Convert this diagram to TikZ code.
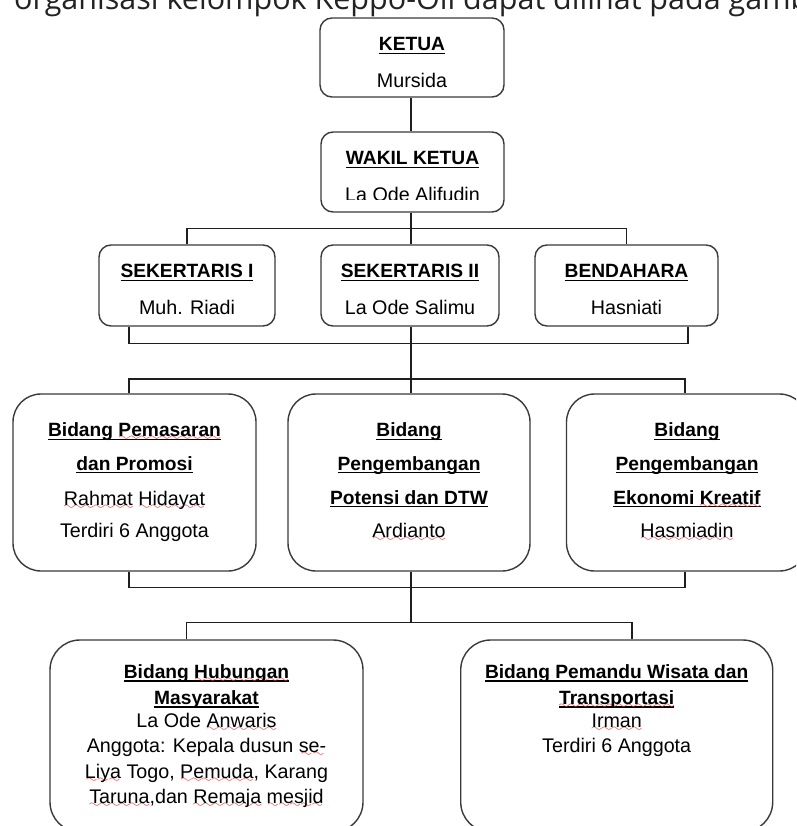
\documentclass[tikz,border=0pt]{standalone}
\usepackage{fontspec}
\setmainfont{Liberation Sans}
\newfontfamily\capfont{Open Sans}
\usetikzlibrary{calc}
\definecolor{boxc}{HTML}{3A3A3A}
\definecolor{linec}{HTML}{1E1E1E}
\definecolor{wavec}{HTML}{E23A3A}
\definecolor{capc}{HTML}{222222}
\newsavebox\hdbox
\newsavebox\sqbox
\font\wavefont=lasy6 at 11.5pt
\newcommand\hd[1]{\sbox\hdbox{#1}\rlap{\rule[-3.4pt]{\wd\hdbox}{1.3pt}}\usebox\hdbox}
\newcommand\sq[1]{\sbox\sqbox{#1}\rlap{\raisebox{-4.2pt}[0pt][0pt]{\color{wavec}\hbox to \wd\sqbox{\xleaders\hbox{\wavefont\char58}\hfil}}}\usebox\sqbox}
\begin{document}
\begin{tikzpicture}[x=1pt,y=-1pt,
  box/.style={draw=boxc, line width=1.4pt, rounded corners=#1, inner sep=0pt, fill=white},
  txt/.style={inner sep=0pt, anchor=base, font=\fontsize{19.7}{22}\selectfont},
  hdr/.style={inner sep=0pt, anchor=base, font=\fontsize{19.2}{22}\selectfont\bfseries},
  conn/.style={draw=linec, line width=1.3pt}]
\useasboundingbox (0,0) rectangle (796,826);
\clip (0,0) rectangle (796,826);
% clipped sentence at the top
\node[inner sep=0pt, anchor=base west, text=capc, font=\capfont\fontsize{30.5}{32}\selectfont] (cap) at (14,9.5) {\llap{Struktur }organisasi kelompok Keppo-Oli dapat dilihat pada gambar};
% boxes
\node[box=12pt, minimum width=184pt, minimum height=79pt] (ketua) at (412,57.5) {};
\node[box=12pt, minimum width=183pt, minimum height=80pt] (wakil) at (412.5,172) {};
\node[box=12pt, minimum width=176pt, minimum height=81pt] (sek1) at (187,285.5) {};
\node[box=12pt, minimum width=178pt, minimum height=81pt] (sek2) at (410,285.5) {};
\node[box=12pt, minimum width=183pt, minimum height=81pt] (bend) at (626.5,285.5) {};
\node[box=28pt, minimum width=243pt, minimum height=177pt] (b1) at (134.5,482.5) {};
\node[box=28pt, minimum width=242pt, minimum height=177pt] (b2) at (409,482.5) {};
\node[box=28pt, minimum width=241pt, minimum height=177pt] (b3) at (687,482.5) {};
\node[box=30pt, minimum width=313pt, minimum height=192pt] (c1) at (206.5,736) {};
\node[box=30pt, minimum width=312pt, minimum height=192pt] (c2) at (616.7,736) {};
% junction coordinates
\coordinate (j1) at (411,228.5);
\coordinate (j2l) at (129,343.5);
\coordinate (j2r) at (688,343.5);
\coordinate (j3) at (411,379);
\coordinate (j3l) at (129,379);
\coordinate (j3r) at (685,379);
\coordinate (j4l) at (129,587.5);
\coordinate (j4r) at (685,587.5);
\coordinate (j5) at (411,622.5);
\coordinate (j5l) at (186.5,622.5);
\coordinate (j5r) at (632,622.5);
% connectors
\draw[conn] (ketua.south -| j1) -- (wakil.north -| j1);
\draw[conn] (wakil.south -| j1) -- (sek2.north -| j1);
\draw[conn] (sek1.north) |- (j1) -| (bend.north);
\draw[conn] (sek1.south -| j2l) -- (j2l) -- (j2r) -- (bend.south -| j2r);
\draw[conn] (sek2.south -| j3) -- (b2.north -| j3);
\draw[conn] (b1.north -| j3l) -- (j3l) -- (j3r) -- (b3.north -| j3r);
\draw[conn] (b1.south -| j4l) -- (j4l) -- (j4r) -- (b3.south -| j4r);
\draw[conn] (b2.south -| j5) -- (j5);
\draw[conn] (c1.north -| j5l) -- (j5l) -- (j5r) -- (c2.north -| j5r);
% row 1
\node[hdr] (t1a) at (412,50.7) {\hd{KETUA}};
\node[txt] (t1b) at (412,87.3) {Mursida};
% row 2
\node[hdr] (t2a) at (412.5,164.7) {\hd{WAKIL KETUA}};
\begin{scope}
\clip (320,175) rectangle (505,199.8);
\node[txt] (t2b) at (412.5,201.5) {La Ode Alifudin};
\end{scope}
% row 3
\node[hdr] (t3a) at (187,277.7) {\hd{SEKERTARIS I}};
\node[txt] (t3b) at (187,314.3) {Muh. Riadi};
\node[hdr] (t3c) at (410,277.7) {\hd{SEKERTARIS II}};
\node[txt] (t3d) at (410,314.3) {La Ode Salimu};
\node[hdr] (t3e) at (626.5,277.7) {\hd{BENDAHARA}};
\node[txt] (t3f) at (626.5,314.3) {Hasniati};
% row 4
\node[hdr] (t4a) at (134.5,436.7) {\hd{Bidang \sq{Pemasaran}}};
\node[hdr] (t4b) at (134.5,470) {\hd{dan Promosi}};
\node[txt] (t4c) at (134.5,505) {\sq{Rahmat} \sq{Hidayat}};
\node[txt] (t4d) at (134.5,537) {Terdiri 6 Anggota};
\node[hdr] (t4e) at (409,436.7) {\hd{Bidang}};
\node[hdr] (t4f) at (409,470) {\hd{Pengembangan}};
\node[hdr] (t4g) at (409,504) {\hd{Potensi dan DTW}};
\node[txt] (t4h) at (409,537) {\sq{Ardianto}};
\node[hdr] (t4i) at (687,436.7) {\hd{Bidang}};
\node[hdr] (t4j) at (687,470) {\hd{Pengembangan}};
\node[hdr] (t4k) at (687,504) {\hd{Ekonomi \sq{Kreatif}}};
\node[txt] (t4l) at (687,537) {\sq{Hasmiadin}};
% row 5
\node[hdr] (t5a) at (206.5,678.3) {\hd{Bidang \sq{Hubungan}}};
\node[hdr] (t5b) at (206.5,704.3) {\hd{Masyarakat}};
\node[txt] (t5c) at (206.5,727.5) {La Ode \sq{Anwaris}};
\node[txt] (t5d) at (206.5,752.5) {Anggota: Kepala dusun \sq{se-}};
\node[txt] (t5e) at (206.5,778) {\sq{Liya} Togo, \sq{Pemuda}, Karang};
\node[txt] (t5f) at (206.5,803.5) {\sq{Taruna},dan \sq{Remaja} \sq{mesjid}};
\node[hdr] (t5g) at (616.7,678.3) {\hd{Bidang Pemandu Wisata dan}};
\node[hdr] (t5h) at (616.7,704.3) {\hd{\sq{Transportasi}}};
\node[txt] (t5i) at (616.7,727.5) {\sq{Irman}};
\node[txt] (t5j) at (616.7,752.5) {Terdiri 6 Anggota};
\end{tikzpicture}
\end{document}
